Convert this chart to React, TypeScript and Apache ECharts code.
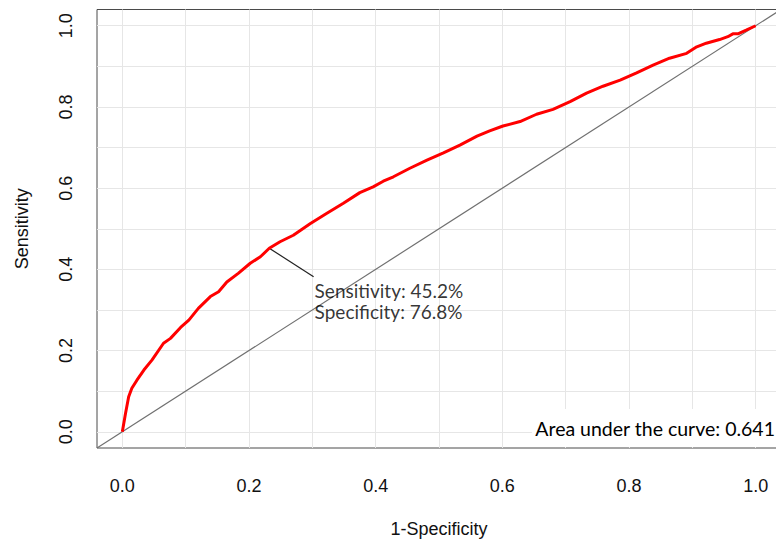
import React, { useEffect, useRef } from "react";
import * as echarts from "echarts";

// ROC curve points (1 - specificity, sensitivity)
const fpr = [
  0, 0.005, 0.01, 0.015, 0.023, 0.034, 0.047, 0.065, 0.076, 0.092, 0.105, 0.12,
  0.139, 0.152, 0.165, 0.183, 0.202, 0.218, 0.232, 0.249, 0.27, 0.297, 0.323,
  0.349, 0.375, 0.396, 0.412, 0.428, 0.454, 0.481, 0.507, 0.533, 0.56, 0.58,
  0.601, 0.628, 0.654, 0.68, 0.707, 0.733, 0.759, 0.786, 0.812, 0.838, 0.864,
  0.891, 0.907, 0.922, 0.943, 0.956, 0.964, 0.972, 0.985, 1.0,
];
const tpr = [
  0, 0.045, 0.086, 0.107, 0.127, 0.152, 0.177, 0.218, 0.23, 0.257, 0.275, 0.304,
  0.333, 0.345, 0.369, 0.39, 0.415, 0.431, 0.452, 0.468, 0.484, 0.513, 0.538,
  0.563, 0.589, 0.603, 0.617, 0.628, 0.649, 0.669, 0.687, 0.706, 0.728, 0.741,
  0.753, 0.764, 0.782, 0.794, 0.813, 0.834, 0.851, 0.866, 0.884, 0.903, 0.92,
  0.932, 0.948, 0.957, 0.966, 0.973, 0.98, 0.98, 0.989, 1.0,
];

const tickValues = [0, 0.2, 0.4, 0.6, 0.8, 1.0];
const gridValues = [0, 0.1, 0.2, 0.3, 0.4, 0.5, 0.6, 0.7, 0.8, 0.9, 1.0];
const axisRange = [-0.04, 1.04];

// best threshold annotation
const bestPoint = [0.232, 0.452];
const labelAnchor = [0.302, 0.382];
const sensitivityPct = 45.2;
const specificityPct = 76.8;
const auc = 0.641;

const tickFont = "'Liberation Sans', Arial, sans-serif";
const noteFont = "Lato, 'Open Sans', sans-serif";

export default function App() {
  const ref = useRef<HTMLDivElement>(null);

  useEffect(() => {
    if (!ref.current) return;
    const chart = echarts.init(ref.current, null, { renderer: "svg" });

    const gridLines = [
      ...gridValues.map((v) => ({ xAxis: v })),
      ...gridValues.map((v) => ({ yAxis: v })),
    ];

    const option: any = {
      animation: false,
      backgroundColor: "#ffffff",
      grid: {
        left: 97,
        top: 9.5,
        right: -5,
        bottom: 92,
        containLabel: false,
        outerBoundsMode: "none",
        show: true,
        borderColor: "#4a4a4a",
        borderWidth: 1,
        backgroundColor: "transparent",
      },
      xAxis: {
        type: "value",
        min: axisRange[0],
        max: axisRange[1],
        name: "1-Specificity",
        nameLocation: "middle",
        nameGap: 72,
        nameTextStyle: { fontSize: 18, fontFamily: tickFont, color: "#111111" },
        axisLine: { show: false },
        splitLine: { show: false },
        axisTick: {
          show: true,
          customValues: tickValues,
          length: 10,
          lineStyle: { color: "#4a4a4a", width: 1 },
        },
        axisLabel: {
          customValues: tickValues,
          formatter: (v: number) => v.toFixed(1),
          fontSize: 18,
          fontFamily: tickFont,
          color: "#111111",
          margin: 29,
        },
      },
      yAxis: {
        type: "value",
        min: axisRange[0],
        max: axisRange[1],
        name: "Sensitivity",
        nameLocation: "middle",
        nameGap: 66,
        nameTextStyle: { fontSize: 18, fontFamily: tickFont, color: "#111111" },
        axisLine: { show: false },
        splitLine: { show: false },
        axisTick: {
          show: true,
          customValues: tickValues,
          length: 10,
          lineStyle: { color: "#4a4a4a", width: 1 },
        },
        axisLabel: {
          customValues: tickValues,
          formatter: (v: number) => v.toFixed(1),
          rotate: 90,
          fontSize: 18,
          fontFamily: tickFont,
          color: "#111111",
          margin: 22,
        },
      },
      series: [
        {
          type: "line",
          name: "chance",
          data: [
            [axisRange[0], axisRange[0]],
            [axisRange[1], axisRange[1]],
          ],
          showSymbol: false,
          lineStyle: { color: "#707070", width: 1.2 },
          z: 2,
          silent: true,
          markLine: {
            silent: true,
            symbol: "none",
            label: { show: false },
            lineStyle: { color: "#e6e6e6", width: 1, type: "solid" },
            data: gridLines,
            z: 1,
          },
        },
        {
          type: "line",
          name: "ROC",
          data: fpr.map((x, i) => [x, tpr[i]]),
          showSymbol: false,
          lineStyle: { color: "#ff0000", width: 3 },
          z: 4,
        },
        {
          type: "line",
          name: "pointer",
          data: [bestPoint, labelAnchor],
          showSymbol: false,
          lineStyle: { color: "#222222", width: 1.2 },
          z: 3,
        },
        {
          type: "scatter",
          name: "note",
          data: [labelAnchor],
          symbolSize: 0,
          z: 5,
          label: {
            show: true,
            position: [1, 3],
            align: "left",
            verticalAlign: "top",
            fontSize: 19,
            lineHeight: 21,
            fontFamily: noteFont,
            color: "#000000",
            formatter: () =>
              `Sensitivity: ${sensitivityPct.toFixed(1)}%\nSpecificity: ${specificityPct.toFixed(1)}%`,
          },
        },
      ],
      graphic: [
        {
          type: "text",
          x: 776,
          y: 428,
          z: 100,
          style: {
            text: `Area under the curve: ${auc.toFixed(3)}`,
            textAlign: "right",
            textVerticalAlign: "middle",
            fontSize: 19.5,
            lineHeight: 22,
            fontFamily: noteFont,
            fill: "#000000",
            backgroundColor: "#ffffff",
            padding: [7, 1, 9, 3],
          },
        },
      ],
    };

    chart.setOption(option);
    return () => chart.dispose();
  }, []);

  return (
    <div
      ref={ref}
      style={{ position: "absolute", left: 0, top: 0, width: 776, height: 540 }}
    />
  );
}
